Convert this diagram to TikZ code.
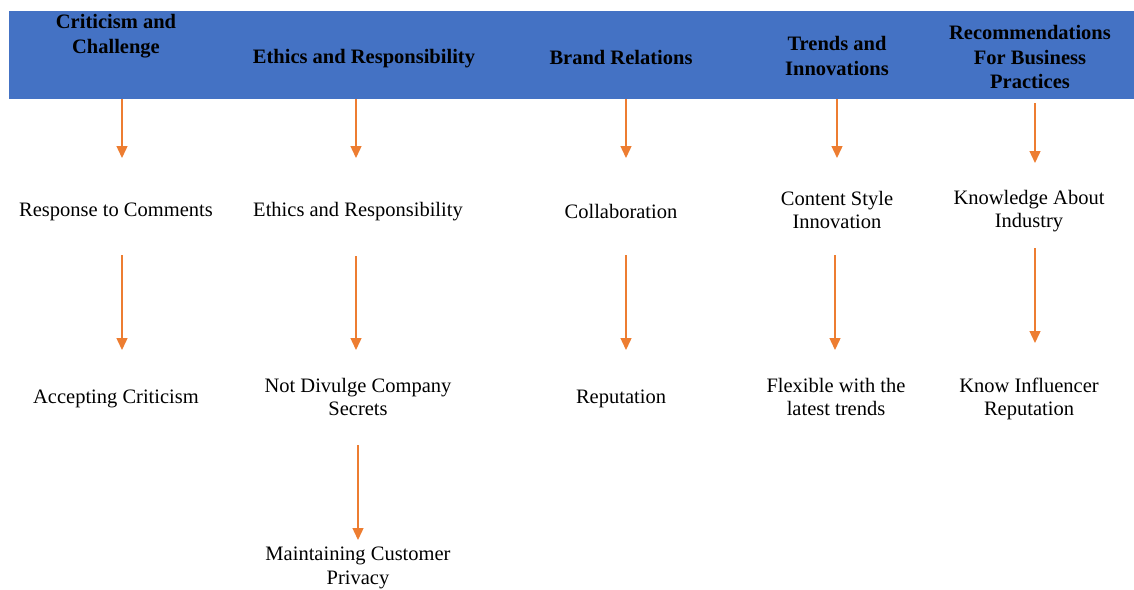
\documentclass[tikz,border=0pt]{standalone}
\usepackage{fontspec}
\setmainfont{Liberation Serif}
\usetikzlibrary{calc,arrows.meta}
\definecolor{bannerblue}{HTML}{4472C4}
\definecolor{flow}{HTML}{ED7D31}
\begin{document}
\begin{tikzpicture}[x=1pt,y=-1pt,
  txt/.style={inner sep=0pt,align=center,font=\fontsize{20.5}{23.5}\selectfont},
  head/.style={txt,font=\fontsize{20.5}{24.5}\selectfont\bfseries},
  arr/.style={draw=flow,line width=1.4pt,-{Triangle[length=12pt,width=11pt]}}]
\useasboundingbox (0,0) rectangle (1134,589);

% header band
\node[fill=bannerblue,inner sep=0pt,outer sep=0pt,anchor=north west,
      minimum width=1125pt,minimum height=88pt] (banner) at (9,11) {};

% column headings
\node[head] (h1) at (116,36) {Criticism and\\Challenge};
\node[head] (h2) at (364,59) {Ethics and Responsibility};
\node[head] (h3) at (621,57) {Brand Relations};
\node[head] (h4) at (837,56) {Trends and\\Innovations};
\node[head] (h5) at (1030,57) {Recommendations\\For Business\\Practices};

% column items
\node[txt] (r1) at (116,212) {Response to Comments};
\node[txt] (r2) at (116,399) {Accepting Criticism};
\node[txt] (e1) at (358,212) {Ethics and Responsibility};
\node[txt] (e2) at (358,397) {Not Divulge Company\\Secrets};
\node[txt] (e3) at (358,568) {Maintaining Customer\\Privacy};
\node[txt] (b1) at (621,211) {Collaboration};
\node[txt] (b2) at (621,399) {Reputation};
\node[txt] (t1) at (837,210) {Content Style\\Innovation};
\node[txt] (t2) at (836,397) {Flexible with the\\latest trends};
\node[txt] (k1) at (1029,211) {Knowledge About\\Industry};
\node[txt] (k2) at (1029,399) {Know Influencer\\Reputation};

% connectors
\draw[arr] ($(banner.south -| r1)+(6,0)$) -- ($(r1)+(6,-54)$);
\draw[arr] ($(r1)+(6,43)$) -- ($(r2)+(6,-49)$);

\draw[arr] ($(banner.south -| e1)+(-2,0)$) -- ($(e1)+(-2,-54)$);
\draw[arr] ($(e1)+(-2,44)$) -- ($(e2)+(-2,-47)$);
\draw[arr] ($(e2)+(0,48)$) -- ($(e3)+(0,-28)$);

\draw[arr] ($(banner.south -| b1)+(5,0)$) -- ($(b1)+(5,-53)$);
\draw[arr] ($(b1)+(5,44)$) -- ($(b2)+(5,-49)$);

\draw[arr] ($(banner.south -| t1)+(0,0)$) -- ($(t1)+(0,-52)$);
\draw[arr] ($(t1)+(-2,45)$) -- ($(t2)+(-1,-47)$);

\draw[arr] ($(banner.south -| k1)+(6,4)$) -- ($(k1)+(6,-48)$);
\draw[arr] ($(k1)+(6,37)$) -- ($(k2)+(6,-56)$);
\end{tikzpicture}
\end{document}
